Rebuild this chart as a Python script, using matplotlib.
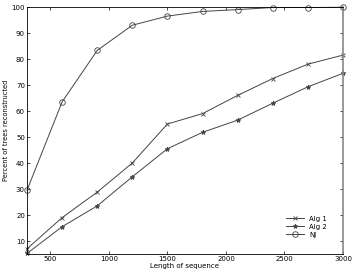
import numpy as np
import matplotlib
matplotlib.use('Agg')
import matplotlib.pyplot as plt

seq_len = [300, 600, 900, 1200, 1500, 1800, 2100, 2400, 2700, 3000]
alg1 = [7.0, 19.0, 28.8, 40.0, 55.0, 59.0, 66.0, 72.5, 78.0, 81.5]
alg2 = [5.2, 15.5, 23.5, 34.7, 45.5, 51.8, 56.5, 63.0, 69.3, 74.5]
nj = [29.5, 63.5, 83.3, 93.0, 96.5, 98.3, 99.0, 99.8, 99.8, 99.9]

plt.rcParams['font.size'] = 5
fig = plt.figure(figsize=(3.54, 2.73), dpi=100)
ax = fig.add_axes([27/354, 19/273, 316/354, 247/273])

col = '#444444'
ax.plot(seq_len, alg1, color=col, lw=0.7, marker='x', ms=3, mew=0.6, label='Alg 1', clip_on=False)
ax.plot(seq_len, alg2, color=col, lw=0.7, marker='*', ms=3.5, mew=0.6, label='Alg 2', clip_on=False)
ax.plot(seq_len, nj, color=col, lw=0.7, marker='o', ms=4, mfc='none', mew=0.6, label='NJ', clip_on=False)

ax.set_xlim(300, 3000)
ax.set_ylim(5, 100)
ax.set_xticks([500, 1000, 1500, 2000, 2500, 3000])
ax.set_yticks(np.arange(10, 101, 10))
ax.tick_params(direction='in', length=2.5, width=0.5, top=True, right=True, pad=1.5)
for s in ax.spines.values():
    s.set_linewidth(0.6)
ax.spines['right'].set_linewidth(1.2)
ax.spines['right'].set_color('#888888')

ax.set_xlabel('Length of sequence', labelpad=0.5)
ax.set_ylabel('Percent of trees reconstructed', labelpad=2, fontsize=4.8)
ax.legend(loc='lower right', bbox_to_anchor=(0.97, 0.04), frameon=False,
          handlelength=2.5, labelspacing=0.3, fontsize=5)

fig.savefig('out.png', dpi=100)
